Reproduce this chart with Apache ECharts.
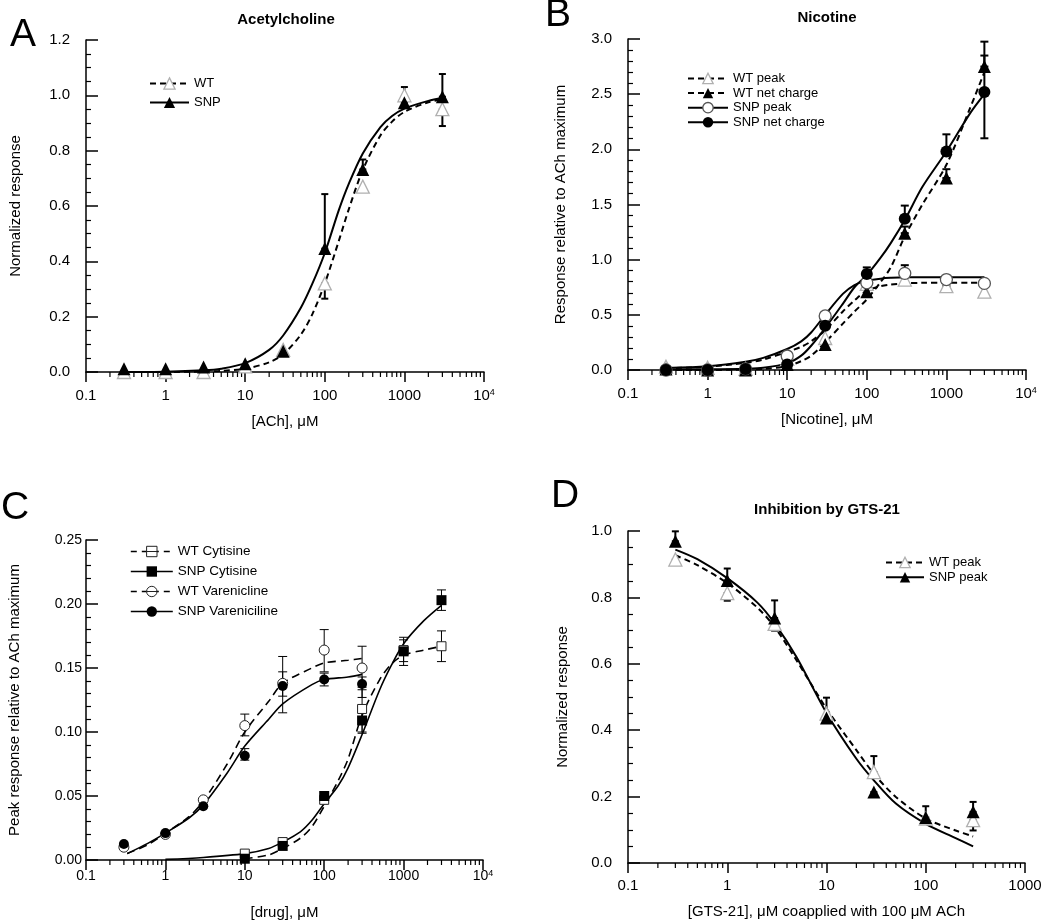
<!DOCTYPE html>
<html><head><meta charset="utf-8">
<script src="https://cdn.jsdelivr.net/npm/echarts@6/dist/echarts.min.js"></script>
<style>html,body{margin:0;padding:0;background:#fff}#c{width:1050px;height:921px}</style>
</head><body><div id="c"></div>
<script>
// ---------- Panel A : Acetylcholine ----------
const aX = [0.3, 1, 3, 10, 30, 100, 300, 1000, 3000];
const aWT = [0.0, 0.0, 0.0, 0.02, 0.08, 0.32, 0.67, 1.0, 0.95];
const aSNP = [0.012, 0.012, 0.018, 0.03, 0.075, 0.446, 0.732, 0.973, 0.995];
const aWTErr = [[100, 0.265, 0.32], [3000, 0.889, 0.95]];
const aSNPErr = [[100, 0.446, 0.643], [300, 0.732, 0.768], [1000, 0.973, 1.03], [3000, 0.995, 1.077]];
const aFitX = [0.3, 1, 3, 5, 10, 20, 30, 50, 70, 100, 150, 200, 300, 500, 700, 1000, 2000, 3000];
const aWTFit = [0.0, 0.0, 0.002, 0.004, 0.012, 0.035, 0.064, 0.135, 0.21, 0.32, 0.474, 0.588, 0.73, 0.855, 0.905, 0.94, 0.975, 0.985];
const aSNPFit = [0.0, 0.001, 0.006, 0.012, 0.032, 0.08, 0.132, 0.232, 0.32, 0.43, 0.585, 0.68, 0.79, 0.885, 0.925, 0.952, 0.98, 0.99];

// ---------- Panel B : Nicotine ----------
const bX = [0.3, 1, 3, 10, 30, 100, 300, 1000, 3000];
const bWTPeak = [0.03, 0.02, 0.01, 0.10, 0.29, 0.78, 0.82, 0.76, 0.71];
const bWTNet = [0.01, 0.0, 0.0, 0.05, 0.23, 0.71, 1.24, 1.74, 2.75];
const bSNPPeak = [0.0, 0.0, 0.01, 0.127, 0.49, 0.79, 0.876, 0.82, 0.785];
const bSNPNet = [0.0, 0.0, 0.01, 0.05, 0.40, 0.87, 1.37, 1.98, 2.52];
const bWTPeakErr = [[1000, 0.73, 0.76]];
const bWTNetErr = [[300, 1.24, 1.30], [1000, 1.74, 1.82], [3000, 2.75, 2.85]];
const bSNPPeakErr = [[300, 0.876, 0.95]];
const bSNPNetErr = [[100, 0.87, 0.93], [300, 1.37, 1.49], [1000, 1.98, 2.136], [3000, 2.10, 2.976]];
const bFitX = [0.3, 1, 3, 5, 10, 15, 20, 30, 50, 70, 100, 150, 200, 300, 500, 1000, 2000, 3000];
const bWTPeakFit = [0.015, 0.03, 0.065, 0.095, 0.165, 0.21, 0.26, 0.36, 0.53, 0.63, 0.72, 0.76, 0.775, 0.785, 0.79, 0.79, 0.79, 0.79];
const bWTNetFit = [0.0, 0.0, 0.005, 0.01, 0.035, 0.08, 0.13, 0.25, 0.42, 0.53, 0.64, 0.80, 0.93, 1.21, 1.50, 1.86, 2.38, 2.70];
const bSNPPeakFit = [0.02, 0.035, 0.075, 0.11, 0.19, 0.26, 0.34, 0.50, 0.69, 0.77, 0.81, 0.828, 0.835, 0.84, 0.84, 0.84, 0.84, 0.84];
const bSNPNetFit = [0.005, 0.007, 0.012, 0.02, 0.06, 0.13, 0.22, 0.38, 0.60, 0.75, 0.86, 1.02, 1.15, 1.36, 1.66, 1.98, 2.33, 2.50];

// ---------- Panel C : Cytisine / Varenicline ----------
const cCytX = [10, 30, 100, 300, 1000, 3000];
const cWTCyt = [0.005, 0.014, 0.047, 0.118, 0.164, 0.167];
const cSNPCyt = [0.001, 0.011, 0.050, 0.109, 0.163, 0.203];
const cVarX = [0.3, 1, 3, 10, 30, 100, 300];
const cWTVar = [0.010, 0.020, 0.047, 0.105, 0.138, 0.164, 0.150];
const cSNPVar = [0.0125, 0.021, 0.042, 0.0815, 0.136, 0.141, 0.1375];
const cWTCytErr = [[300, 0.10, 0.135], [1000, 0.152, 0.172], [3000, 0.155, 0.179]];
const cSNPCytErr = [[300, 0.099, 0.12], [1000, 0.155, 0.174], [3000, 0.195, 0.211]];
const cWTVarErr = [[10, 0.097, 0.114], [30, 0.128, 0.147], [100, 0.147, 0.180], [300, 0.133, 0.167]];
const cSNPVarErr = [[10, 0.078, 0.087], [30, 0.115, 0.159], [100, 0.136, 0.146], [300, 0.127, 0.143]];
const cVarFitX = [0.33, 0.6, 1, 2, 3, 6, 10, 20, 30, 70, 100, 200, 300];
const cWTVarFit = [0.005, 0.012, 0.021, 0.034, 0.046, 0.075, 0.10, 0.124, 0.138, 0.150, 0.154, 0.156, 0.1575];
const cSNPVarFit = [0.005, 0.013, 0.021, 0.033, 0.043, 0.068, 0.089, 0.11, 0.122, 0.137, 0.141, 0.143, 0.145];
const cSNPCytFitX = [1, 3, 10, 20, 30, 50, 70, 100, 150, 200, 300, 500, 700, 1000, 1800, 3000];
const cSNPCytFit = [0.0005, 0.002, 0.005, 0.009, 0.014, 0.022, 0.031, 0.044, 0.058, 0.072, 0.098, 0.133, 0.152, 0.169, 0.187, 0.199];
const cWTCytFitX = [10, 20, 30, 50, 70, 100, 150, 200, 300, 500, 700, 1000, 1800, 3000];
const cWTCytFit = [0.001, 0.004, 0.009, 0.017, 0.026, 0.042, 0.062, 0.079, 0.113, 0.141, 0.153, 0.160, 0.164, 0.167];

// ---------- Panel D : Inhibition by GTS-21 ----------
const dX = [0.3, 1, 3, 10, 30, 100, 300];
const dWT = [0.914, 0.813, 0.72, 0.45, 0.274, 0.134, 0.129];
const dSNP = [0.969, 0.851, 0.738, 0.437, 0.214, 0.137, 0.154];
const dWTErr = [[0.3, 0.90, 0.914], [1, 0.79, 0.813], [3, 0.70, 0.72], [30, 0.274, 0.322], [300, 0.098, 0.129]];
const dSNPErr = [[0.3, 0.969, 0.999], [1, 0.851, 0.887], [3, 0.738, 0.791], [10, 0.437, 0.498], [30, 0.20, 0.214], [100, 0.137, 0.171], [300, 0.154, 0.184]];
const dFitX = [0.3, 0.5, 1, 2, 3, 5, 10, 20, 30, 50, 100, 200, 300];
const dWTFit = [0.927, 0.897, 0.843, 0.77, 0.711, 0.61, 0.465, 0.34, 0.269, 0.199, 0.134, 0.098, 0.08];
const dSNPFit = [0.944, 0.915, 0.858, 0.785, 0.722, 0.62, 0.452, 0.314, 0.249, 0.179, 0.118, 0.075, 0.05];

// ---------- helpers ----------
const LS = 'Liberation Sans';
const pair = (xs, ys) => xs.map((x, i) => [x, ys[i]]);
const series = [];
function addCurve(name, xs, ys, gi, symbol, dash, w) {
  series.push({type: 'line', name: name, xAxisIndex: gi, yAxisIndex: gi, data: pair(xs, ys),
    smooth: 0.3, showSymbol: false, symbol: symbol, symbolSize: 10, silent: true,
    lineStyle: {color: '#000', width: w, type: dash}, itemStyle: {color: '#000'}, z: 2});
}
function addPoints(xs, ys, gi, symbol, size, item, z) {
  series.push({type: 'scatter', xAxisIndex: gi, yAxisIndex: gi, data: pair(xs, ys), symbol: symbol,
    symbolSize: size, itemStyle: Object.assign({opacity: 1}, item), z: z, silent: true});
}
function addErr(arr, gi, cap, lw) {
  series.push({type: 'custom', xAxisIndex: gi, yAxisIndex: gi, data: arr, encode: {x: 0, y: [1, 2]}, z: 3, silent: true,
    renderItem: function (params, api) {
      const x = api.value(0);
      const p1 = api.coord([x, api.value(1)]), p2 = api.coord([x, api.value(2)]);
      const st = {stroke: '#000', lineWidth: lw};
      return {type: 'group', children: [
        {type: 'line', shape: {x1: p1[0], y1: p1[1], x2: p2[0], y2: p2[1]}, style: st},
        {type: 'line', shape: {x1: p1[0] - cap, y1: p1[1], x2: p1[0] + cap, y2: p1[1]}, style: st},
        {type: 'line', shape: {x1: p2[0] - cap, y1: p2[1], x2: p2[0] + cap, y2: p2[1]}, style: st}
      ]};
    }});
}
const minorMult = [2, 3, 4, 5, 6, 7, 8, 9];
function addMinorTicks(gi, d0, d1) {
  const vals = [];
  for (let d = d0; d < d1; d++) minorMult.forEach(k => vals.push([+(k * Math.pow(10, d)).toPrecision(3), 0]));
  series.push({type: 'custom', xAxisIndex: gi, yAxisIndex: gi, data: vals, z: 1, silent: true,
    renderItem: function (params, api) {
      const p = api.coord([api.value(0), 0]);
      return {type: 'line', shape: {x1: p[0], y1: p[1], x2: p[0], y2: p[1] + 5}, style: {stroke: '#000', lineWidth: 1.2}};
    }});
}
function fmtLog(v) {
  if (v < 0.5) return '0.1';
  if (v > 9000) return '10{sup|4}';
  return String(Math.round(v));
}
function xAx(gi, max, name, nameGap, margin, fs) {
  return {type: 'log', logBase: 10, gridIndex: gi, min: 0.1, max: max,
    axisLine: {show: true, onZero: false, lineStyle: {color: '#000', width: 1.5}},
    axisTick: {show: true, inside: false, length: 10, lineStyle: {color: '#000', width: 1.5}},
    minorTick: {show: false}, splitLine: {show: false},
    axisLabel: {color: '#000', fontSize: fs, fontFamily: LS, margin: margin, formatter: fmtLog,
      rich: {sup: {fontSize: 9, fontFamily: LS, color: '#000', verticalAlign: 'top'}}},
    name: name, nameLocation: 'middle', nameGap: nameGap,
    nameTextStyle: {color: '#000', fontSize: 15, fontFamily: LS}};
}
function yAx(gi, max, interval, dec, minorSplit, name, nameGap, margin, fs) {
  return {type: 'value', gridIndex: gi, min: 0, max: max, interval: interval,
    axisLine: {show: true, onZero: false, lineStyle: {color: '#000', width: 1.5}},
    axisTick: {show: true, inside: true, length: 12, lineStyle: {color: '#000', width: 1.5}},
    minorTick: {show: true, splitNumber: minorSplit, length: 5, lineStyle: {color: '#000', width: 1.2}},
    splitLine: {show: false}, minorSplitLine: {show: false},
    axisLabel: {color: '#000', fontSize: fs, fontFamily: LS, margin: margin, formatter: v => v.toFixed(dec)},
    name: name, nameLocation: 'middle', nameGap: nameGap,
    nameTextStyle: {color: '#000', fontSize: 15, fontFamily: LS}};
}

// symbols / styles
const DASH_A = [6, 4];
const openTri = {color: '#fff', borderColor: '#b0b0b0', borderWidth: 1.3};
const fillBlk = {color: '#000'};
const openCirc = {color: '#fff', borderColor: '#555', borderWidth: 1.3};
const openC = {color: '#fff', borderColor: '#222', borderWidth: 1};
const SQ_MID = 'path://M0,0L10,0L10,10L0,10ZM0,5L10,5';
const CI_MID = 'path://M0,5A5,5,0,1,0,10,5A5,5,0,1,0,0,5ZM0,5L10,5';

// ---- A
addCurve('WT', aFitX, aWTFit, 0, 'triangle', DASH_A, 2);
addCurve('SNP', aFitX, aSNPFit, 0, 'triangle', 'solid', 2);
addErr(aWTErr, 0, 3.5, 2);
addErr(aSNPErr, 0, 3.5, 2);
addPoints(aX, aWT, 0, 'triangle', 13, openTri, 4);
addPoints(aX, aSNP, 0, 'triangle', 13, fillBlk, 5);
addMinorTicks(0, -1, 4);
// ---- B
addCurve('WT peak', bFitX, bWTPeakFit, 1, 'triangle', DASH_A, 2);
addCurve('WT net charge', bFitX, bWTNetFit, 1, 'triangle', DASH_A, 2);
addCurve('SNP peak', bFitX, bSNPPeakFit, 1, 'circle', 'solid', 2);
addCurve('SNP net charge', bFitX, bSNPNetFit, 1, 'circle', 'solid', 2);
addErr(bWTPeakErr, 1, 4, 2);
addErr(bWTNetErr, 1, 4, 2);
addErr(bSNPPeakErr, 1, 4, 2);
addErr(bSNPNetErr, 1, 4, 2);
addPoints(bX, bWTPeak, 1, 'triangle', 13, openTri, 4);
addPoints(bX, bWTNet, 1, 'triangle', 13, fillBlk, 5);
addPoints(bX, bSNPPeak, 1, 'circle', 12, openCirc, 6);
addPoints(bX, bSNPNet, 1, 'circle', 12, fillBlk, 7);
addMinorTicks(1, -1, 4);
// ---- C
addCurve('WT Cytisine', cWTCytFitX, cWTCytFit, 2, SQ_MID, [8, 5], 1.6);
addCurve('SNP Cytisine', cSNPCytFitX, cSNPCytFit, 2, 'rect', 'solid', 1.6);
addCurve('WT Varenicline', cVarFitX, cWTVarFit, 2, CI_MID, [8, 5], 1.6);
addCurve('SNP Vareniciline', cVarFitX, cSNPVarFit, 2, 'circle', 'solid', 1.6);
addErr(cWTCytErr, 2, 4.5, 1);
addErr(cSNPCytErr, 2, 4.5, 1);
addErr(cWTVarErr, 2, 4.5, 1);
addErr(cSNPVarErr, 2, 4.5, 1);
addPoints(cCytX, cWTCyt, 2, 'rect', 9, openC, 4);
addPoints(cCytX, cSNPCyt, 2, 'rect', 10, fillBlk, 5);
addPoints(cVarX, cWTVar, 2, 'circle', 10, openC, 4);
addPoints(cVarX, cSNPVar, 2, 'circle', 10, fillBlk, 5);
addMinorTicks(2, -1, 4);
// ---- D
addCurve('WT peak ', dFitX, dWTFit, 3, 'triangle', DASH_A, 2);
addCurve('SNP peak ', dFitX, dSNPFit, 3, 'triangle', 'solid', 2);
addErr(dWTErr, 3, 3.5, 2);
addErr(dSNPErr, 3, 3.5, 2);
addPoints(dX, dWT, 3, 'triangle', 13, openTri, 4);
addPoints(dX, dSNP, 3, 'triangle', 13, fillBlk, 5);
addMinorTicks(3, -1, 3);

function legItem(name, item, dash, w) {
  return {name: name, itemStyle: Object.assign({opacity: 1}, item), lineStyle: {color: '#000', width: w, type: dash, opacity: 1}};
}
function legend(left, top, iw, ih, gap, fs, data) {
  return {orient: 'vertical', left: left, top: top, itemWidth: iw, itemHeight: ih, itemGap: gap, padding: 0,
    selectedMode: false, textStyle: {color: '#000', fontSize: fs, fontFamily: LS}, data: data};
}
const TITLE_FONT = 'bold 15px "Liberation Sans"';
const LETTER_FONT = '39px "Liberation Sans"';

const option = {
  animation: false,
  backgroundColor: '#fff',
  textStyle: {fontFamily: LS, color: '#000'},
  grid: [
    {left: 86, top: 40, width: 398, height: 332},
    {left: 628, top: 39, width: 398, height: 331},
    {left: 86, top: 540, width: 397, height: 320},
    {left: 628, top: 531, width: 397, height: 332}
  ],
  xAxis: [
    xAx(0, 10000, '[ACh], μM', 42, 16, 15),
    xAx(1, 10000, '[Nicotine], μM', 42, 16, 15),
    xAx(2, 10000, '[drug], μM', 45, 9, 14),
    xAx(3, 1000, '[GTS-21], μM coapplied with 100 μM ACh', 41, 15, 15)
  ],
  yAxis: [
    yAx(0, 1.2, 0.2, 1, 4, 'Normalized response', 63, 16, 15),
    yAx(1, 3.0, 0.5, 1, 5, 'Response relative to ACh maximum', 60, 16, 15),
    yAx(2, 0.25, 0.05, 2, 5, 'Peak response relative to ACh maximum', 64, 4, 14),
    yAx(3, 1.0, 0.2, 1, 4, 'Normalized response', 58, 16, 15)
  ],
  legend: [
    legend(149, 77, 39, 14, 6, 13, [legItem('WT', openTri, DASH_A, 2), legItem('SNP', fillBlk, 'solid', 2)]),
    legend(687, 72, 40, 13, 1.6, 13, [legItem('WT peak', openTri, DASH_A, 2), legItem('WT net charge', fillBlk, DASH_A, 2),
      legItem('SNP peak', openCirc, 'solid', 2), legItem('SNP net charge', fillBlk, 'solid', 2)]),
    legend(130, 544.5, 42, 13, 6, 13.5, [legItem('WT Cytisine', openC, [6, 5], 1.6), legItem('SNP Cytisine', fillBlk, 'solid', 1.6),
      legItem('WT Varenicline', openC, [6, 5], 1.6), legItem('SNP Vareniciline', fillBlk, 'solid', 1.6)]),
    legend(885, 556, 38, 13, 1.7, 13, [legItem('WT peak ', openTri, DASH_A, 2), legItem('SNP peak ', fillBlk, 'solid', 2)])
  ],
  graphic: [
    {type: 'text', x: 286, y: 20, style: {text: 'Acetylcholine', font: TITLE_FONT, fill: '#000', align: 'center', verticalAlign: 'middle'}},
    {type: 'text', x: 827, y: 18, style: {text: 'Nicotine', font: TITLE_FONT, fill: '#000', align: 'center', verticalAlign: 'middle'}},
    {type: 'text', x: 827, y: 510, style: {text: 'Inhibition by GTS-21', font: TITLE_FONT, fill: '#000', align: 'center', verticalAlign: 'middle'}},
    {type: 'text', x: 23, y: 35, style: {text: 'A', font: LETTER_FONT, fill: '#000', align: 'center', verticalAlign: 'middle'}},
    {type: 'text', x: 558, y: 15, style: {text: 'B', font: LETTER_FONT, fill: '#000', align: 'center', verticalAlign: 'middle'}},
    {type: 'text', x: 15, y: 508, style: {text: 'C', font: LETTER_FONT, fill: '#000', align: 'center', verticalAlign: 'middle'}},
    {type: 'text', x: 565, y: 496, style: {text: 'D', font: LETTER_FONT, fill: '#000', align: 'center', verticalAlign: 'middle'}}
  ],
  series: series
};
const chart = echarts.init(document.getElementById('c'), null, {renderer: 'canvas'});
chart.setOption(option);
</script></body></html>
